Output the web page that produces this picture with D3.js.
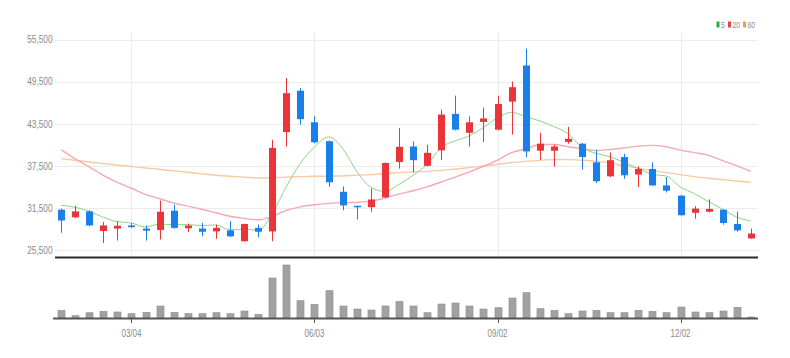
<!DOCTYPE html>
<html><head><meta charset="utf-8">
<script src="https://cdn.jsdelivr.net/npm/d3@7"></script>
<style>
html,body{margin:0;padding:0;background:#fff;}
text{font-family:"Liberation Sans Narrow","Liberation Sans",Arial,sans-serif;}
</style></head>
<body><svg id="c" width="790" height="358"></svg>
<script>
const dates = ["2019-01-28","2019-02-04","2019-02-11","2019-02-18","2019-02-25","2019-03-04","2019-03-11","2019-03-18","2019-03-25","2019-04-01",
"2019-04-08","2019-04-15","2019-04-22","2019-04-29","2019-05-06","2019-05-13","2019-05-20","2019-05-27","2019-06-03","2019-06-10",
"2019-06-17","2019-06-24","2019-07-01","2019-07-08","2019-07-15","2019-07-22","2019-07-29","2019-08-05","2019-08-12","2019-08-19",
"2019-08-26","2019-09-02","2019-09-09","2019-09-16","2019-09-23","2019-09-30","2019-10-07","2019-10-14","2019-10-21","2019-10-28",
"2019-11-04","2019-11-11","2019-11-18","2019-11-25","2019-12-02","2019-12-09","2019-12-16","2019-12-23","2019-12-30","2020-01-06"];
const open  = [31250,30150,31000,28200,28550,29000,28550,28350,31100,28600,28550,28150,28300,26750,28650,28150,42300,48200,43700,41000,
33800,31800,31600,33000,38050,40250,37500,39700,44900,42200,43750,42650,46650,51800,39650,39650,40900,40650,38000,36000,
38750,36250,37050,34700,33250,30800,30950,31250,29200,27150];
const high  = [31400,31800,31150,29500,29600,29350,28980,32550,31950,29260,29350,29120,29600,29250,29120,41200,50000,48600,44550,41100,
34550,31800,34250,38000,42900,41000,40500,45500,47500,44550,45800,47500,49500,54200,42200,40500,43050,40750,39800,39400,
39200,37400,38000,35900,33300,31750,32700,31300,31000,28550];
const low   = [27950,30050,28900,26500,26850,28650,26850,27000,28550,28030,27450,27090,27370,26700,27300,26750,40250,43350,40720,34500,
31150,29850,30950,32900,37100,36550,37400,38300,42550,40250,40900,42550,41950,38750,38350,37350,40650,36950,35050,35900,
35650,34450,34650,33700,30400,29950,30850,29100,28100,27100];
const close = [29700,31000,29000,29000,28950,28750,28250,30950,28650,28980,28100,28650,27450,29200,28100,40050,47850,44150,40850,35150,
31850,31600,32700,37900,40200,38300,39350,44800,42650,43700,44250,46300,48700,39550,40650,40250,41350,38750,35300,38300,
36150,37050,34700,33950,30450,31400,31350,29350,28300,27850];
const volume = [154,46,106,134,120,86,114,240,114,86,86,106,86,140,74,800,1060,346,274,546,
240,180,160,240,334,240,106,280,300,240,180,206,400,506,186,154,86,140,154,106,
106,154,134,106,220,120,106,140,214,20];
const ma5  = [31870,31585,31016,30162,29530,29340,28790,29180,29110,29116,28986,29066,28366,28476,28300,30690,34530,37870,40200,41610,
39970,36720,34430,33840,34850,36140,37690,40110,41060,41760,42950,44340,45120,44500,43890,43090,42100,40110,39260,38790,
37970,37110,36300,36030,34460,33510,32370,31300,30170,29650];
const ma20 = [39800,38500,37350,36150,35150,34300,33400,32800,32200,31750,31300,30800,30300,30000,29800,30300,31150,31650,31950,32139,
32247,32277,32462,32907,33469,33947,34502,35194,35894,36630,37438,38320,39383,39900,40528,40538,40213,39943,39665,39823,
40038,40310,40410,40213,39725,39380,38980,38208,37490,36698];
const ma60 = [38520,38300,38050,37810,37600,37400,37190,37000,36780,36570,36350,36150,36000,35880,35770,35810,35880,35950,36000,36030,
36050,36170,36240,36380,36520,36640,36710,36850,37040,37240,37470,37710,37950,38130,38280,38380,38380,38300,38160,37880,
37520,37170,36810,36530,36240,35960,35720,35530,35340,35140];
const yTicks = [25500,31500,37500,43500,49500,55500];
const xTickDates = ["2019-03-04","2019-06-03","2019-09-02","2019-12-02"];
const legendItems = ["5","20","60"];

const svg = d3.select("#c");
const L = 54, R = 758, PT = 32.5, PB = 257, VT = 262, VB = 318;
const RED = "#ea3439", BLUE = "#1b7fe9";
const maColors = ["#86d882","#f5a9b0","#f8caa2"];

const x = d3.scaleBand().domain(dates).range([L, R]).paddingInner(0.5).paddingOuter(0.25);
const cx = d => x(d) + x.bandwidth()/2;
const y = d3.scaleLinear().domain([24500, 56500]).range([PB, PT]);
const yv = d3.scaleLinear().domain([0, 1120]).range([VB, VT]);

// grid
svg.append("g").selectAll("line").data(yTicks).join("line")
  .attr("x1", L+1).attr("x2", R).attr("y1", d=>Math.round(y(d))+0.5).attr("y2", d=>Math.round(y(d))+0.5)
  .attr("stroke", "#ececec").attr("stroke-width", 1);
svg.append("g").selectAll("line").data(xTickDates).join("line")
  .attr("x1", d=>Math.round(cx(d))+0.5).attr("x2", d=>Math.round(cx(d))+0.5).attr("y1", PT).attr("y2", PB)
  .attr("stroke", "#ececec").attr("stroke-width", 1);

// y labels
svg.append("g").selectAll("text").data(yTicks).join("text")
  .attr("transform", d=>`translate(52.5,${y(d)}) scale(0.75,1)`)
  .attr("text-anchor","end").attr("dy","0.35em").attr("font-size", 11).attr("fill","#8a8a8a")
  .text(d=>d3.format(",")(d));

// MA lines
[ma60, ma20, ma5].forEach((arr, k) => {
  const col = [maColors[2], maColors[1], maColors[0]][k];
  svg.append("path").datum(arr)
    .attr("fill","none").attr("stroke", col).attr("stroke-width", k===2?1:1.4)
    .attr("d", d3.line().x((v,i)=>cx(dates[i])).y(v=>y(v)).curve(d3.curveMonotoneX));
});

// candles
const cg = svg.append("g");
dates.forEach((d,i) => {
  const up = close[i] >= open[i];
  const col = up ? RED : BLUE;
  const xc = Math.round(cx(d)) + 0.5;
  cg.append("line").attr("x1", xc).attr("x2", xc).attr("y1", y(high[i])).attr("y2", y(low[i]))
    .attr("stroke", col).attr("stroke-width", 1);
  const top = y(Math.max(open[i], close[i])), bot = y(Math.min(open[i], close[i]));
  cg.append("rect").attr("x", xc - x.bandwidth()/2).attr("width", x.bandwidth())
    .attr("y", top).attr("height", Math.max(1.5, bot-top)).attr("fill", col);
});

// price bottom line
svg.append("line").attr("x1", L+1).attr("x2", R).attr("y1", PB+0.5).attr("y2", PB+0.5)
  .attr("stroke","#2a2a2a").attr("stroke-width", 2);

// volume bars
svg.append("g").selectAll("rect").data(volume).join("rect")
  .attr("x", (v,i)=>Math.round(cx(dates[i])) + 0.5 - x.bandwidth()/2).attr("width", x.bandwidth())
  .attr("y", v=>yv(v)).attr("height", v=>VB - yv(v))
  .attr("fill","#a2a2a2").attr("stroke","#8c8c8c").attr("stroke-width",0.6);

svg.append("line").attr("x1", L-1).attr("x2", R).attr("y1", VB+0.5).attr("y2", VB+0.5)
  .attr("stroke","#555").attr("stroke-width", 2);

// x ticks
const xt = svg.append("g");
xt.selectAll("line").data(xTickDates).join("line")
  .attr("x1", d=>Math.round(cx(d))+0.5).attr("x2", d=>Math.round(cx(d))+0.5).attr("y1", VB).attr("y2", VB+5)
  .attr("stroke","#555").attr("stroke-width",1);
xt.selectAll("text").data(xTickDates).join("text")
  .attr("transform", d=>`translate(${cx(d)},${VB+19}) scale(0.8,1)`)
  .attr("text-anchor","middle").attr("font-size", 10).attr("fill","#8a8a8a")
  .text(d=>d.slice(5,7)+"/"+d.slice(8,10));

// legend
const lg = svg.append("g");
const lx = [716.5, 728, 743];
legendItems.forEach((t,k)=>{
  lg.append("rect").attr("x", lx[k]).attr("y", 21.5).attr("width", 3).attr("height", 6).attr("fill", ["#22b43a","#ee3d46","#f39c3a"][k]);
  lg.append("text").attr("transform", `translate(${lx[k]+4.5},27.8) scale(0.75,1)`)
    .attr("font-size", 9).attr("fill","#8a8a8a").text(t);
});
</script></body></html>
